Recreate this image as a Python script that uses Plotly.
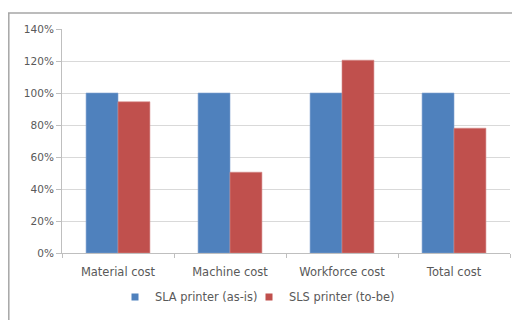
import plotly.graph_objects as go

categories = ["Material cost", "Machine cost", "Workforce cost", "Total cost"]
sla_values = [1.00, 1.00, 1.00, 1.00]
sls_values = [0.945, 0.505, 1.205, 0.78]
series_names = ["SLA printer (as-is)", "SLS printer (to-be)"]
series_colors = ["#4F81BD", "#C0504D"]
y_ticks = [0, 0.2, 0.4, 0.6, 0.8, 1.0, 1.2, 1.4]
y_tick_labels = ["0%", "20%", "40%", "60%", "80%", "100%", "120%", "140%"]

W, H = 520, 320
# page is offset by the 8px body margin; figure pixel coords below
L, R, T, B = 54, 18, 21, 75
pw, ph = W - L - R, H - T - B

def px(x):
    return (x - L) / pw

def py(y):
    return (H - B - y) / ph

FONT = "DejaVu Sans, Verdana, sans-serif"
TXT = "#595959"

fig = go.Figure()
fig.add_trace(go.Bar(x=categories, y=sla_values, name=series_names[0], showlegend=False,
                     marker=dict(color=series_colors[0], line=dict(color="#7FA3D0", width=0.6))))
fig.add_trace(go.Bar(x=categories, y=sls_values, name=series_names[1], showlegend=False,
                     marker=dict(color=series_colors[1], line=dict(color="#D58A88", width=0.6))))
for name, col, lg in zip(series_names, series_colors, ["legend", "legend2"]):
    fig.add_trace(go.Scatter(x=[None], y=[None], mode="markers", name=name, legend=lg,
                             marker=dict(symbol="square", size=7, color=col)))

leg_common = dict(orientation="h", xanchor="left", yanchor="middle",
                  font=dict(family=FONT, size=11.4, color=TXT), itemwidth=30,
                  bgcolor="rgba(0,0,0,0)")

fig.update_layout(
    width=W, height=H,
    margin=dict(l=L, r=R, t=T, b=B),
    paper_bgcolor="white", plot_bgcolor="white",
    barmode="group", bargap=0.43, bargroupgap=0,
    font=dict(family=FONT, size=11, color=TXT),
    showlegend=True,
    legend=dict(x=px(107), y=py(289), **leg_common),
    legend2=dict(x=px(241), y=py(289), **leg_common),
    xaxis=dict(type="category", showgrid=False, showline=True, linecolor="#BFBFBF", linewidth=1,
               ticks="outside", tickson="boundaries", ticklen=4, tickcolor="#BFBFBF",
               ticklabelstandoff=8,
               tickfont=dict(family=FONT, size=11.5, color=TXT), fixedrange=True),
    yaxis=dict(range=[0, 1.4], tickvals=y_ticks, ticktext=y_tick_labels,
               showgrid=True, gridcolor="#D9D9D9", gridwidth=1,
               showline=True, linecolor="#BFBFBF", linewidth=1,
               ticks="outside", ticklen=5, tickcolor="#BFBFBF",
               tickfont=dict(family=FONT, size=10.5, color=TXT), zeroline=False, fixedrange=True),
    shapes=[
        dict(type="line", xref="paper", yref="paper", x0=px(0), x1=px(530), y0=py(5), y1=py(5),
             line=dict(color="#A6A6A6", width=1.5)),
        dict(type="line", xref="paper", yref="paper", x0=px(0.8), x1=px(0.8), y0=py(5), y1=py(330),
             line=dict(color="#A6A6A6", width=1.5)),
    ],
)

fig.write_html("out.html")
